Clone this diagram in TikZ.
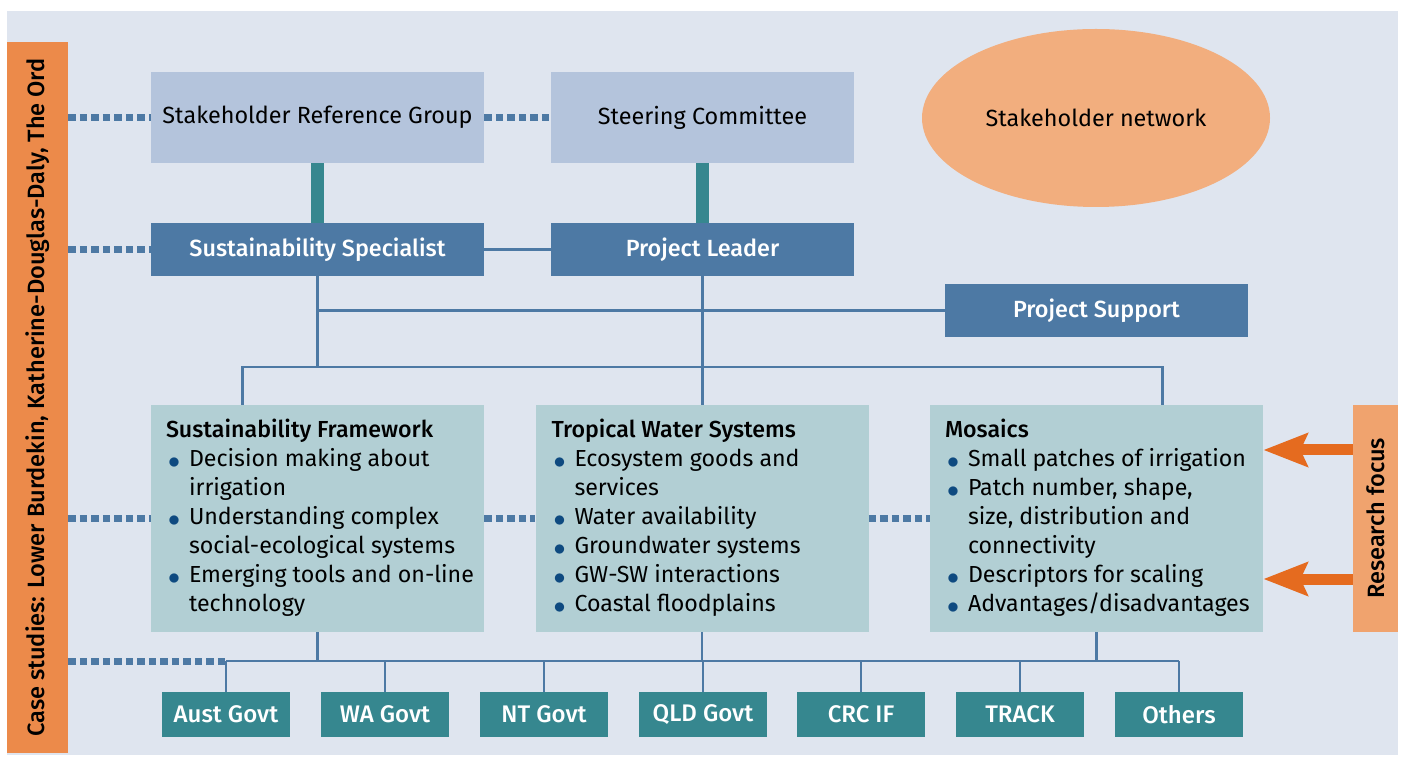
\documentclass[tikz,border=0pt]{standalone}
\usepackage{fontspec}
\setmainfont{Fira Sans}[BoldFont=* Medium]
\usetikzlibrary{shapes.geometric,arrows.meta}

\definecolor{bgblue}{HTML}{DFE5EF}
\definecolor{paleblue}{HTML}{B4C4DC}
\definecolor{midblue}{HTML}{4D79A4}
\definecolor{paleteal}{HTML}{B2CFD4}
\definecolor{darkteal}{HTML}{36878F}
\definecolor{barorange}{HTML}{EC8A4A}
\definecolor{lightorange}{HTML}{F0A36E}
\definecolor{netorange}{HTML}{F2AE7E}
\definecolor{arroworange}{HTML}{E56B1F}
\definecolor{dotblue}{HTML}{0E4A80}

\tikzset{
	group/.style={fill=paleblue, minimum height=45.5pt, inner sep=0pt, font=\fontsize{11.7}{13}\selectfont},
	role/.style={fill=midblue, text=white, minimum height=26.5pt, inner sep=0pt, font=\fontsize{11.7}{13}\selectfont\bfseries},
	theme/.style={fill=paleteal, minimum width=166.5pt, minimum height=113.5pt, inner sep=0pt},
	themetext/.style={anchor=north west, inner sep=0pt, align=left, font=\fontsize{11.6}{14.5}\selectfont},
	partner/.style={fill=darkteal, text=white, minimum width=64pt, minimum height=22.5pt, inner sep=0pt, font=\fontsize{12}{13}\selectfont\bfseries},
	sidebar/.style={rotate=90, inner sep=0pt, font=\fontsize{11.8}{13}\selectfont\bfseries},
	link/.style={midblue, line width=1.2pt},
	dotlink/.style={midblue, line width=3.5pt, dash pattern=on 3.75pt off 2pt},
	tie/.style={darkteal, line width=6.5pt},
	focusarrow/.style={arroworange, line width=5.5pt, -{Stealth[length=22pt, width=16.5pt, inset=3.5pt]}}
}

\newcommand{\bul}{\makebox[11.5pt][l]{\hspace{1pt}\textcolor{dotblue}{\raisebox{-1pt}{$\bullet$}}}}
\newcommand{\gap}{\hspace*{11.5pt}}

\begin{document}
\begin{tikzpicture}[x=0.5pt, y=-0.5pt]
	\useasboundingbox (0,0) rectangle (1402,758);
	\fill[bgblue] (7,11) rectangle (1398,755);

	\node[sidebar, fill=barorange, minimum width=355.5pt, minimum height=30.5pt] (cases) at (37.5,397.5) {Case studies: Lower Burdekin, Katherine-Douglas-Daly, The Ord};
	\node[sidebar, fill=lightorange, minimum width=113.5pt, minimum height=22.5pt] (focus) at (1375.5,518.5) {Research focus};

	\node[group, minimum width=166.5pt] (srg) at (317.5,117.5) {Stakeholder Reference Group};
	\node[group, minimum width=151.5pt] (sc) at (702.5,117.5) {Steering Committee};
	\node[ellipse, fill=netorange, minimum width=174pt, minimum height=89pt, inner sep=0pt, font=\fontsize{11.7}{13}\selectfont] (net) at (1096,118) {Stakeholder network};

	\node[role, minimum width=166.5pt] (ss) at (317.5,249.5) {Sustainability Specialist};
	\node[role, minimum width=151.5pt] (pl) at (702.5,249.5) {Project Leader};
	\node[role, minimum width=151.5pt] (ps) at (1096.5,310.5) {Project Support};

	\node[theme] (sf) at (317.5,518.5) {};
	\node[theme] (tws) at (702,518.5) {};
	\node[theme] (mos) at (1096.5,518.5) {};

	\node[themetext] (sftext) at ([xshift=7.5pt,yshift=-7pt]sf.north west) {\textbf{Sustainability Framework}\\
		\bul Decision making about\\ \gap irrigation\\
		\bul Understanding complex\\ \gap social-ecological systems\\
		\bul Emerging tools and on-line\\ \gap technology};
	\node[themetext] (twstext) at ([xshift=8pt,yshift=-7pt]tws.north west) {\textbf{Tropical Water Systems}\\
		\bul Ecosystem goods and\\ \gap services\\
		\bul Water availability\\
		\bul Groundwater systems\\
		\bul GW-SW interactions\\
		\bul Coastal floodplains};
	\node[themetext] (mostext) at ([xshift=7.5pt,yshift=-7pt]mos.north west) {\textbf{Mosaics}\\
		\bul Small patches of irrigation\\
		\bul Patch number, shape,\\ \gap size, distribution and\\ \gap connectivity\\
		\bul Descriptors for scaling\\
		\bul Advantages/disadvantages};

	\foreach \n/\x/\t in {aust/226/Aust Govt, wa/385/WA Govt, nt/544/NT Govt, qld/703/QLD Govt, crc/861/CRC IF, track/1020/TRACK, others/1179/Others}
		\node[partner] (\n) at (\x,714.5) {\t};

	\coordinate (split) at (0,367);
	\coordinate (bus) at (0,661);

	\draw[tie] (srg) -- (ss);
	\draw[tie] (sc) -- (pl);

	\draw[link] (ss.east) -- (pl.west);
	\draw[link] (ss.south) -- (ss.south |- split);
	\draw[link] (ss.south |- ps.west) -- (ps.west);
	\draw[link] (pl.south) -- (pl.south |- tws.north);
	\draw[link] ([xshift=-37.5pt]sf.north) |- ([xshift=33pt]mos.north |- split) -- ([xshift=33pt]mos.north);

	\foreach \t in {sf,tws,mos} \draw[link] (\t.south) -- (\t.south |- bus);
	\draw[link] (aust.north |- bus) -- (others.north |- bus);
	\foreach \n in {aust,wa,nt,qld,crc,track,others} \draw[link] (\n.north) -- (\n.north |- bus);

	\draw[dotlink] (cases.south |- srg.west) -- (srg.west);
	\draw[dotlink] (srg.east) -- (sc.west);
	\draw[dotlink] (cases.south |- ss.west) -- (ss.west);
	\draw[dotlink] (cases.south |- sf.west) -- (sf.west);
	\draw[dotlink] (sf.east) -- (tws.west);
	\draw[dotlink] (tws.east) -- (mos.west);
	\draw[dotlink] (cases.south |- bus) -- (aust.north |- bus);

	\draw[focusarrow] ([yshift=34.25pt]focus.north) -- ([yshift=34.25pt]mos.east);
	\draw[focusarrow] ([yshift=-30.25pt]focus.north) -- ([yshift=-30.25pt]mos.east);
\end{tikzpicture}
\end{document}
